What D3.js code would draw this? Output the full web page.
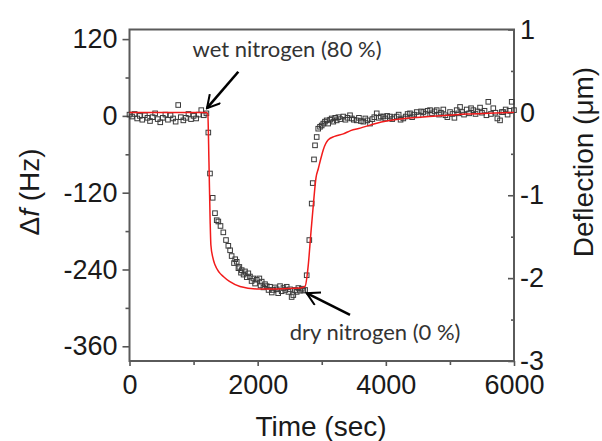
<!DOCTYPE html>
<html>
<head>
<meta charset="utf-8">
<script src="https://cdn.jsdelivr.net/npm/d3@7/dist/d3.min.js"></script>
<style>
  html, body { margin: 0; padding: 0; background: #fff; }
  svg { display: block; }
  .tick text { font-family: "Liberation Sans", Arial, sans-serif; font-size: 27px; fill: #1a1a1a; }
  .tick line { stroke: #555; stroke-width: 1.6; }
  .domain { display: none; }
  .axis-title { font-family: "Liberation Sans", Arial, sans-serif; font-size: 28px; fill: #1a1a1a; }
  .note { font-family: Lato, "Open Sans", sans-serif; font-size: 22px; fill: #333; }
</style>
</head>
<body>
<div id="chart"></div>
<script>
// Scatter: frequency shift (Hz) vs time (s)
const shiftTime = [
  0, 40, 80, 120, 160, 200, 240, 280, 320, 360, 400, 440, 480, 520, 560, 600,
  640, 680, 720, 760, 800, 840, 880, 920, 960, 1000, 1040, 1080, 1120, 1160, 1200,
  1230, 1256, 1298, 1334, 1361, 1386, 1420, 1464, 1506, 1542, 1570, 1594, 1631,
  1650, 1673, 1700, 1714, 1740, 1751, 1780, 1802, 1830, 1854, 1880, 1905, 1932,
  1960, 1985, 2026, 2045, 2063, 2090, 2115, 2141, 2170, 2193, 2220, 2244, 2270,
  2297, 2320, 2349, 2375, 2401, 2430, 2453, 2480, 2505, 2530, 2556, 2585, 2609,
  2635, 2661, 2690, 2712, 2740,
  2765, 2806, 2843, 2859, 2879, 2895, 2921, 2945, 2973, 2999, 3024, 3050, 3077,
  3100, 3130, 3155, 3180, 3210, 3233, 3260, 3290, 3337, 3370, 3400, 3441, 3470,
  3500, 3546, 3580, 3610, 3649, 3680, 3710, 3753, 3790, 3820, 3858, 3890, 3920,
  3961, 3990, 4020, 4065, 4100, 4130, 4170, 4200, 4230, 4273, 4310, 4340, 4377,
  4410, 4440, 4482, 4510, 4550, 4585, 4620, 4650, 4690, 4720, 4760, 4794, 4830,
  4860, 4897, 4930, 4960, 5002, 5040, 5070, 5106, 5130, 5158, 5190, 5220, 5262,
  5300, 5330, 5365, 5400, 5430, 5470, 5500, 5540, 5570, 5599, 5640, 5677, 5710,
  5740, 5782, 5810, 5833, 5870, 5900, 5930, 5964, 6000
];
const shiftHz = [
  2, -1, 3, -4, 0, -6, 1, -3, -8, -2, 4, -5, -10, -3, 2, -6,
  1, -4, -9, 17, -2, -7, -3, 3, -5, 0, -4, 2, 9, 1, 4,
  -26, -90, -128, -152, -163, -165, -172, -182, -194, -203, -210, -219, -230,
  -224, -228, -238, -236, -245, -241, -248, -243, -252, -246, -251, -258, -254,
  -262, -256, -254, -265, -259, -268, -263, -266, -272, -267, -276, -272, -268,
  -271, -277, -266, -274, -269, -272, -267, -275, -271, -283, -280, -272, -275,
  -269, -273, -270, -273, -272,
  -249, -194, -137, -105, -68, -46, -33, -20, -17, -15, -12, -9, -7,
  -12, -6, -4, -9, -3, -7, -2, -5, -1, -6, -3, 1, -4,
  -6, -7, -3, -8, -9, -4, -7, -12, -5, -2, 4, -3, -1,
  -1, -4, 0, -1, -5, -2, -1, 2, -6, -4, -1, 3, 4,
  -2, 2, 6, 1, 7, 6, 3, 8, 9, 4, 7, 9, 2,
  5, 10, 1, -2, 6, 3, -3, 9, 4, 14, 6, 2, 10,
  4, 12, 9, 3, 7, 13, 5, 8, 1, 22, 3, 12, 5,
  -4, -7, 6, 6, 10, 2, 8, 22, 9
];

// Red curve: deflection (um) vs time (s)
const deflTime = [
  0, 1200, 1222, 1240, 1258, 1270, 1300, 1334, 1400, 1464, 1560, 1724, 1985,
  2300, 2661, 2739, 2790, 2828, 2868, 2910, 2946, 2985, 3024, 3102, 3200, 3337,
  3450, 3600, 3858, 4221, 4741, 5262, 5600, 6000
];
const deflUm = [
  0, 0, -0.02, -0.6, -1.3, -1.6, -1.75, -1.84, -1.93, -1.98, -2.04, -2.10, -2.13,
  -2.13, -2.12, -2.10, -1.84, -1.48, -1.12, -0.79, -0.68, -0.56, -0.45, -0.33, -0.29, -0.26,
  -0.22, -0.19, -0.13, -0.08, -0.048, -0.02, -0.01, 0
];

const timeTicks = [0, 2000, 4000, 6000];
const timeMinor = [1000, 3000, 5000];
const hzTicks = [-360, -240, -120, 0, 120];
const hzMinor = [-300, -180, -60, 60];
const umTicks = [-3, -2, -1, 0, 1];
const umMinor = [-2.5, -1.5, -0.5, 0.5];

// annotations in data units (time, Hz)
const notes = [
  { text: 'wet nitrogen (80 %)', t: 985, hz: 92, from: [1698, 69], to: [1209, 12] },
  { text: 'dry nitrogen (0 %)', t: 2500, hz: -350, from: [3441, -311], to: [2765, -277] }
];

const width = 602, height = 441;
const plot = { left: 129.5, right: 514, top: 29.5, bottom: 361 };

const x = d3.scaleLinear().domain([0, 6000]).range([plot.left, plot.right]);
const yHz = d3.scaleLinear().domain([-383, 135]).range([plot.bottom, plot.top]);
const yUm = d3.scaleLinear().domain([-3, 1]).range([plot.bottom, plot.top]);

const svg = d3.select('#chart').append('svg')
    .attr('width', width)
    .attr('height', height);

const fmt = d => String(d);

// bottom axis
svg.append('g')
    .attr('transform', `translate(0,${plot.bottom})`)
    .call(d3.axisBottom(x).tickValues(timeTicks).tickSize(5).tickPadding(9).tickFormat(fmt));
svg.append('g')
    .attr('transform', `translate(0,${plot.bottom})`)
    .call(d3.axisBottom(x).tickValues(timeMinor).tickSize(4).tickFormat(''));

// left axis
svg.append('g')
    .attr('transform', `translate(${plot.left},0)`)
    .call(d3.axisLeft(yHz).tickValues(hzTicks).tickSize(7).tickPadding(5).tickFormat(fmt));
svg.append('g')
    .attr('transform', `translate(${plot.left},0)`)
    .call(d3.axisLeft(yHz).tickValues(hzMinor).tickSize(4).tickFormat(''));

// right axis, ticks point inward
svg.append('g')
    .attr('transform', `translate(${plot.right},0)`)
    .call(d3.axisRight(yUm).tickValues(umTicks).tickSize(-6).tickPadding(6).tickFormat(fmt));
svg.append('g')
    .attr('transform', `translate(${plot.right},0)`)
    .call(d3.axisRight(yUm).tickValues(umMinor).tickSize(-3).tickFormat(''));

// frame
svg.append('rect')
    .attr('x', plot.left)
    .attr('y', plot.top)
    .attr('width', plot.right - plot.left)
    .attr('height', plot.bottom - plot.top)
    .attr('fill', 'none')
    .attr('stroke', '#5a5a5a')
    .attr('stroke-width', 2);

// scatter squares
const sq = 4.6;
svg.append('g').selectAll('rect')
    .data(shiftTime.map((t, i) => ({ t, v: shiftHz[i] })))
    .join('rect')
    .attr('x', d => x(d.t) - sq / 2)
    .attr('y', d => yHz(d.v) - sq / 2)
    .attr('width', sq)
    .attr('height', sq)
    .attr('fill', 'none')
    .attr('stroke', '#3a3a3a')
    .attr('stroke-width', 1);

// red deflection curve
const line = d3.line()
    .x(d => x(d.t))
    .y(d => yUm(d.v))
    .curve(d3.curveMonotoneX);
svg.append('path')
    .datum(deflTime.map((t, i) => ({ t, v: deflUm[i] })))
    .attr('d', line)
    .attr('fill', 'none')
    .attr('stroke', '#f21b1b')
    .attr('stroke-width', 1.5);

// axis titles
svg.append('text')
    .attr('class', 'axis-title')
    .attr('x', 321)
    .attr('y', 436)
    .attr('text-anchor', 'middle')
    .text('Time (sec)');

const leftTitle = svg.append('text')
    .attr('class', 'axis-title')
    .attr('transform', 'translate(39,192) rotate(-90)')
    .attr('text-anchor', 'middle');
leftTitle.append('tspan').text('Δ');
leftTitle.append('tspan').attr('font-style', 'italic').text('f');
leftTitle.append('tspan').text(' (Hz)');

svg.append('text')
    .attr('class', 'axis-title')
    .attr('transform', 'translate(593,162) rotate(-90)')
    .attr('text-anchor', 'middle')
    .text('Deflection (μm)');

// annotations
svg.append('defs').append('marker')
    .attr('id', 'head')
    .attr('viewBox', '0 0 10 10')
    .attr('refX', 9)
    .attr('refY', 5)
    .attr('markerWidth', 6)
    .attr('markerHeight', 6)
    .attr('markerUnits', 'strokeWidth')
    .attr('orient', 'auto')
    .append('path')
    .attr('d', 'M1,0.5 L9,5 L1,9.5')
    .attr('fill', 'none')
    .attr('stroke', '#000')
    .attr('stroke-width', 1.3);

notes.forEach(n => {
    svg.append('text')
        .attr('class', 'note')
        .attr('x', x(n.t))
        .attr('y', yHz(n.hz))
        .text(n.text);
    svg.append('line')
        .attr('x1', x(n.from[0]))
        .attr('y1', yHz(n.from[1]))
        .attr('x2', x(n.to[0]))
        .attr('y2', yHz(n.to[1]))
        .attr('stroke', '#000')
        .attr('stroke-width', 2.6)
        .attr('marker-end', 'url(#head)');
});
</script>
</body>
</html>
